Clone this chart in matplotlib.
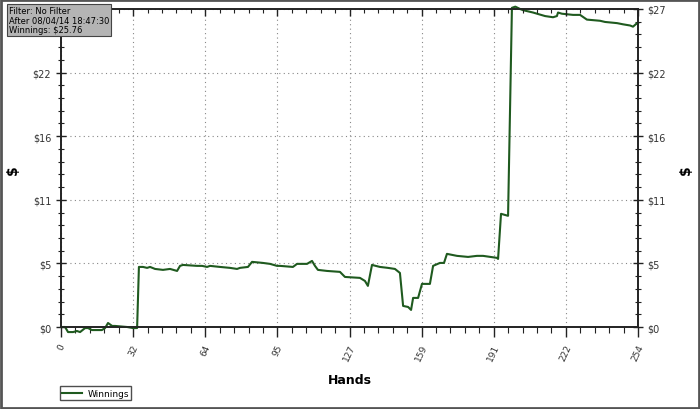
import matplotlib
matplotlib.use("Agg")
import matplotlib.pyplot as plt
from matplotlib.patches import Rectangle
from matplotlib.ticker import AutoMinorLocator

# cumulative winnings
hands = [0, 1.8, 3.1, 5.3, 7.0, 8.4, 10.6, 11.9, 13.6, 18.0, 19.4, 20.7, 22.5, 23.8,
         29.1, 31.7, 33.5, 34.3, 36.1, 37.9, 39.2, 41.4, 44.9, 48.0, 51.1, 52.4,
         53.7, 59.9, 62.1, 64.3, 65.6, 70.0, 74.4, 77.5, 78.8, 82.3, 84.1, 88.9,
         92.0, 95.1, 96.4, 102.1, 103.9, 108.3, 110.5, 111.8, 113.1, 117.1, 122.8,
         125.0, 131.6, 133.8, 135.1, 136.9, 140.4, 143.9, 147.0, 149.2, 150.6,
         152.8, 154.1, 155.0, 157.2, 158.9, 162.4, 163.8, 166.8, 168.6, 169.9,
         174.3, 179.2, 183.1, 185.8, 191.9, 192.4, 193.7, 196.8, 198.5, 200.0,
         202.1, 203.4, 207.8, 213.1, 216.6, 218.3, 218.8, 220.5, 225.4, 228.5,
         231.5, 237.3, 239.5, 244.8, 247.4, 250.5, 251.8, 253.6, 254]
winnings = [0, 0, -0.43, -0.43, -0.34, -0.43, -0.09, -0.09, -0.26, -0.26, -0.09,
            0.34, 0.09, 0.09, 0, -0.09, -0.09, 5.10, 5.10, 5.02, 5.10, 4.93, 4.85,
            4.93, 4.76, 5.19, 5.27, 5.19, 5.19, 5.10, 5.19, 5.10, 5.02, 4.93, 5.02,
            5.10, 5.53, 5.44, 5.36, 5.19, 5.19, 5.10, 5.36, 5.36, 5.61, 5.19, 4.85,
            4.76, 4.68, 4.25, 4.17, 3.91, 3.49, 5.27, 5.10, 5.02, 4.93, 4.59, 1.79,
            1.70, 1.45, 2.47, 2.47, 3.66, 3.66, 5.19, 5.44, 5.44, 6.21, 6.04, 5.95,
            6.04, 6.04, 5.87, 5.78, 9.61, 9.44, 27.1, 27.2, 27.0, 26.9, 26.7, 26.4,
            26.3, 26.4, 26.7, 26.6, 26.5, 26.5, 26.1, 26.0, 25.9, 25.8, 25.7, 25.6,
            25.5, 25.8, 25.76]

x_ticks = [0, 31.75, 63.5, 95.25, 127, 158.75, 190.5, 222.25, 254]
x_labels = ["0", "32", "64", "95", "127", "159", "191", "222", "254"]
y_ticks = [0, 5.4, 10.8, 16.2, 21.6, 27]
y_labels = ["$0", "$5", "$11", "$16", "$22", "$27"]

info = "Filter: No Filter\nAfter 08/04/14 18:47:30\nWinnings: $25.76"

fig = plt.figure(figsize=(7, 4.1), dpi=100)
ax = fig.add_axes([61/700, 1 - 328/410, 577/700, 318/410])

line, = ax.plot(hands, winnings, color="#1f5a1f", lw=1.5, clip_on=False,
                label="Winnings", zorder=3)

ax.set_xlim(0, 254)
ax.set_ylim(0, 27)
ax.set_xticks(x_ticks)
ax.set_xticklabels(x_labels, rotation=65, fontsize=6.5, color="#333333")
ax.set_yticks(y_ticks)
ax.set_yticklabels(y_labels, fontsize=7, color="#333333")
ax.xaxis.set_minor_locator(AutoMinorLocator(5))
ax.yaxis.set_minor_locator(AutoMinorLocator(5))

ax.tick_params(axis="y", which="both", left=True, right=True, labelright=True,
               direction="inout", color="#222222")
ax.tick_params(axis="x", which="both", bottom=True, top=False, direction="out",
               color="#222222", pad=4)
ax.tick_params(which="major", length=7, width=1)
ax.tick_params(which="minor", length=4, width=0.8)

# top axis ticks point inward
top = ax.twiny()
top.set_xlim(0, 254)
top.set_xticks(x_ticks)
top.xaxis.set_minor_locator(AutoMinorLocator(5))
top.tick_params(axis="x", which="both", direction="in", labeltop=False,
                color="#222222")
top.tick_params(which="major", length=5, width=1)
top.tick_params(which="minor", length=3, width=0.8)

ax.grid(True, which="major", linestyle=(0, (1, 3)), color="#888888", lw=0.8)
for s in list(ax.spines.values()) + list(top.spines.values()):
    s.set_color("#222222")
    s.set_linewidth(1.2)

ax.set_xlabel("Hands", fontsize=9, fontweight="bold", labelpad=8)
fig.text(13/700, 1 - 170/410, "$", fontsize=10, fontweight="bold", rotation=90,
         ha="center", va="center")
fig.text(686/700, 1 - 170/410, "$", fontsize=10, fontweight="bold", rotation=90,
         ha="center", va="center")

fig.text(9/700, 1 - 7/410, info, fontsize=6, va="top", ha="left",
         linespacing=1.1, zorder=10,
         bbox=dict(boxstyle="square,pad=0.2", facecolor="#b4b4b4",
                   edgecolor="#444444", lw=0.8))

fig.legend(handles=[line], loc="lower left", bbox_to_anchor=(60/700, 9/410),
           fontsize=6.5, frameon=True, fancybox=False, edgecolor="#222222",
           handlelength=2.2, borderpad=0.25, borderaxespad=0, handletextpad=0.6)

fig.patches.append(Rectangle((0.002, 0.003), 0.996, 0.994, transform=fig.transFigure,
                             fill=False, edgecolor="#555555", lw=2))

fig.savefig("out.png", dpi=100)
